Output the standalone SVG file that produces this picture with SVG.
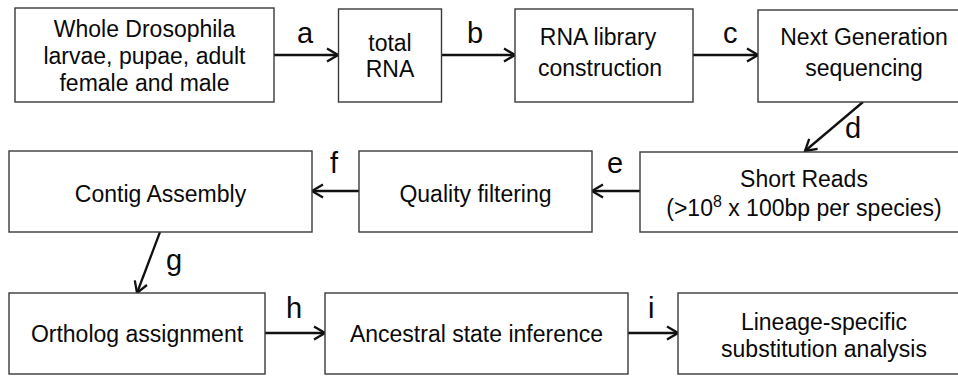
<svg xmlns="http://www.w3.org/2000/svg" width="958" height="376" viewBox="0 0 958 376">
<style>
.box{fill:#fff;stroke:#3a3a3a;stroke-width:1.4}
.t{font-family:"Liberation Sans",Arial,sans-serif;font-size:23px;fill:#0a0a0a;text-anchor:middle}
.lbl{font-family:"Liberation Sans",Arial,sans-serif;font-size:29px;fill:#0a0a0a}
.conn{stroke:#111;stroke-width:2.3;fill:none;marker-end:url(#arr)}
</style>
<defs>
<marker id="arr" markerUnits="userSpaceOnUse" viewBox="0 0 14 16" refX="12.5" refY="8" markerWidth="14" markerHeight="16" orient="auto">
<path d="M1.5,1.5 L12.5,8 L1.5,14.5" fill="none" stroke="#111" stroke-width="2.3" stroke-linejoin="miter"/>
</marker>
</defs>
<rect width="958" height="376" fill="#fff"/>
<g id="connectors">
<line class="conn" x1="274" y1="55" x2="338" y2="55"/>
<line class="conn" x1="442" y1="55" x2="515" y2="55"/>
<line class="conn" x1="693" y1="55" x2="758" y2="55"/>
<line class="conn" x1="863" y1="102" x2="805" y2="151"/>
<line class="conn" x1="640" y1="191" x2="592" y2="191"/>
<line class="conn" x1="359" y1="191" x2="312" y2="191"/>
<line class="conn" x1="160" y1="232" x2="137" y2="293"/>
<line class="conn" x1="265" y1="333" x2="325" y2="333"/>
<line class="conn" x1="628" y1="333" x2="678" y2="333"/>
<text class="lbl" x="297" y="43">a</text>
<text class="lbl" x="467" y="43">b</text>
<text class="lbl" x="723" y="43">c</text>
<text class="lbl" x="845" y="138">d</text>
<text class="lbl" x="607" y="173">e</text>
<text class="lbl" x="330" y="173">f</text>
<text class="lbl" x="166" y="270">g</text>
<text class="lbl" x="286" y="318">h</text>
<text class="lbl" x="648" y="318">i</text>
</g>
<g id="whole">
<rect class="box" x="15" y="8" width="259" height="94"/>
<text class="t" x="144.5" y="37">Whole Drosophila</text>
<text class="t" x="144.5" y="64">larvae, pupae, adult</text>
<text class="t" x="144.5" y="91">female and male</text>
</g>
<g id="totalrna">
<rect class="box" x="338.5" y="9" width="103" height="93"/>
<text class="t" x="390" y="51">total</text>
<text class="t" x="390" y="77">RNA</text>
</g>
<g id="library">
<rect class="box" x="515" y="9" width="178" height="93"/>
<text class="t" x="598" y="45">RNA library</text>
<text class="t" x="600" y="76">construction</text>
</g>
<g id="ngs">
<rect class="box" x="758" y="10" width="212" height="92"/>
<text class="t" x="864" y="45">Next Generation</text>
<text class="t" x="864" y="76">sequencing</text>
</g>
<g id="shortreads">
<rect class="box" x="640" y="152" width="330" height="80"/>
<text class="t" x="804" y="187">Short Reads</text>
<text class="t" x="804" y="216">(&gt;10<tspan font-size="16" dy="-9">8</tspan><tspan dy="9"> x 100bp per species)</tspan></text>
</g>
<g id="quality">
<rect class="box" x="359" y="151" width="233" height="81"/>
<text class="t" x="475.5" y="202">Quality filtering</text>
</g>
<g id="contig">
<rect class="box" x="9" y="151" width="303" height="81"/>
<text class="t" x="160.5" y="202">Contig Assembly</text>
</g>
<g id="ortholog">
<rect class="box" x="9" y="293" width="256" height="81"/>
<text class="t" x="137" y="342">Ortholog assignment</text>
</g>
<g id="ancestral">
<rect class="box" x="325" y="293" width="303" height="81"/>
<text class="t" x="476.5" y="342">Ancestral state inference</text>
</g>
<g id="lineage">
<rect class="box" x="678" y="293" width="292" height="81"/>
<text class="t" x="824" y="330">Lineage-specific</text>
<text class="t" x="824" y="357">substitution analysis</text>
</g>
</svg>
